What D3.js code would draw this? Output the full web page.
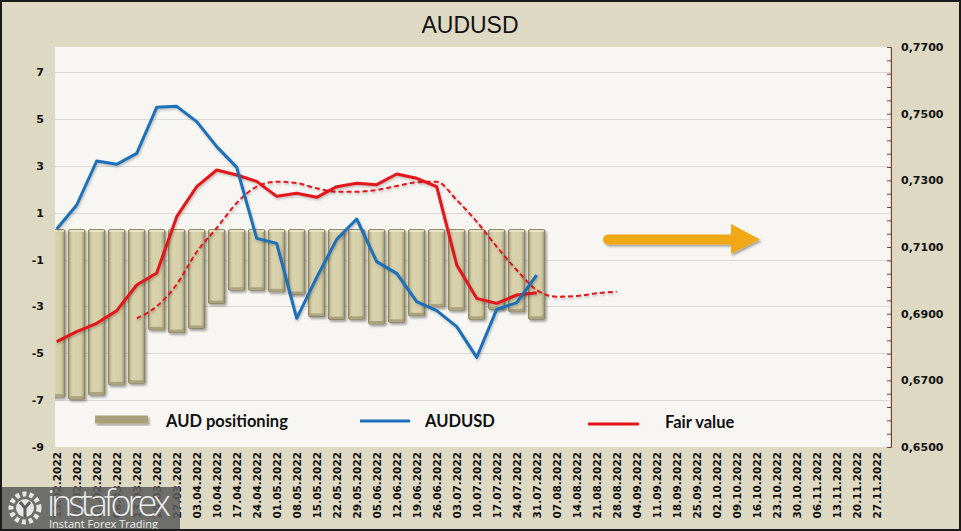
<!DOCTYPE html>
<html><head><meta charset="utf-8">
<script src="https://cdn.jsdelivr.net/npm/d3@7"></script>
<style>html,body{margin:0;padding:0;background:#ddd9c3;}svg{display:block;}</style>
</head><body>
<svg id="chart" width="961" height="531"></svg>
<script>
const dates = ["13.02.2022","20.02.2022","27.02.2022","06.03.2022","13.03.2022","20.03.2022","27.03.2022",
"03.04.2022","10.04.2022","17.04.2022","24.04.2022","01.05.2022","08.05.2022","15.05.2022","22.05.2022",
"29.05.2022","05.06.2022","12.06.2022","19.06.2022","26.06.2022","03.07.2022","10.07.2022","17.07.2022",
"24.07.2022","31.07.2022","07.08.2022","14.08.2022","21.08.2022","28.08.2022","04.09.2022","11.09.2022",
"18.09.2022","25.09.2022","02.10.2022","09.10.2022","16.10.2022","23.10.2022","30.10.2022","06.11.2022",
"13.11.2022","20.11.2022","27.11.2022"];
const positioning = [-6.87,-6.96,-6.78,-6.35,-6.28,-4.0,-4.12,-3.94,-2.88,-2.31,-2.31,-2.38,-2.49,-3.43,-3.56,
-3.55,-3.75,-3.68,-3.4,-3.02,-3.16,-3.55,-3.13,-3.23,-3.55];
const audusd = [0.7154,0.7226,0.7358,0.7348,0.7381,0.7519,0.7522,0.7476,0.7401,0.7339,0.7126,0.7111,0.6886,
0.7009,0.7123,0.7184,0.7056,0.7021,0.6936,0.6909,0.6861,0.6769,0.6913,0.6933,0.7016];
const fairValue = [0.6816,0.6846,0.6871,0.6909,0.6986,0.7022,0.7191,0.7281,0.7331,0.7316,0.7297,0.7252,0.7261,
0.7249,0.7281,0.7291,0.7287,0.7319,0.7306,0.7281,0.7046,0.6946,0.6931,0.6956,0.6963];
const fairTrend = [null,null,null,null,0.6886,0.6922,0.6988,0.7085,0.7157,0.7232,0.7281,0.7296,0.7292,0.7276,
0.7266,0.7266,0.7271,0.7283,0.7294,0.7296,0.7241,0.7176,0.7101,0.7031,0.6971,0.6951,0.6953,0.6961,0.6966];
const leftTicks = [-9,-7,-5,-3,-1,1,3,5,7];
const rightTicks = [0.65,0.67,0.69,0.71,0.73,0.75,0.77];
const title = "AUDUSD";
const legendLabels = ["AUD positioning","AUDUSD","Fair value"];

const W = 961, H = 531;
const plot = {l:55, r:890, t:47, b:447};
const svg = d3.select("#chart");
const defs = svg.append("defs");

const barGrad = defs.append("linearGradient").attr("id","barGrad").attr("x1","0").attr("x2","1").attr("y1","0").attr("y2","0");
[["0%","#958e69"],["14%","#cdc69d"],["30%","#d9d3ad"],["75%","#d5cfa9"],["88%","#b9b28a"],["100%","#8a8361"]]
  .forEach(s=>barGrad.append("stop").attr("offset",s[0]).attr("stop-color",s[1]));
const sh = defs.append("filter").attr("id","shadow").attr("x","-20%").attr("y","-20%").attr("width","150%").attr("height","150%");
sh.append("feDropShadow").attr("dx",1.5).attr("dy",2).attr("stdDeviation",1.2).attr("flood-color","#000").attr("flood-opacity",0.35);
const lsh = defs.append("filter").attr("id","lshadow").attr("x","-5%").attr("y","-5%").attr("width","110%").attr("height","120%");
lsh.append("feDropShadow").attr("dx",1).attr("dy",1.5).attr("stdDeviation",1).attr("flood-color","#000").attr("flood-opacity",0.25);

svg.append("rect").attr("x",0).attr("y",0).attr("width",W).attr("height",H).attr("fill","#ddd9c3");
svg.append("rect").attr("x",plot.l).attr("y",plot.t).attr("width",plot.r-plot.l).attr("height",plot.b-plot.t).attr("fill","#f7f6f2");

const x = d3.scalePoint().domain(dates).range([56.7, 876.7]);
const yL = d3.scaleLinear().domain([-9, 8.07]).range([plot.b, plot.t]);
const yR = d3.scaleLinear().domain([0.65, 0.77]).range([plot.b, plot.t]);

// grid
svg.append("g").selectAll("line").data(leftTicks.filter(d=>d>-9)).join("line")
  .attr("x1",plot.l).attr("x2",plot.r).attr("y1",d=>Math.round(yL(d))+0.5).attr("y2",d=>Math.round(yL(d))+0.5)
  .attr("stroke","#d9d8d4").attr("stroke-width",1);

// left labels
svg.append("g").selectAll("text").data(leftTicks).join("text")
  .attr("x",44).attr("y",d=>yL(d)+4).attr("text-anchor","end")
  .attr("font-family","DejaVu Sans, Verdana, sans-serif").attr("font-weight","bold").attr("font-size",11)
  .attr("fill","#111").text(d=>d);

// right axis
const ra = svg.append("g").attr("transform",`translate(${plot.r+1},0)`)
  .call(d3.axisLeft(yR).tickValues(d3.range(0.65,0.7701,0.004)).tickSize(4).tickFormat(""));
ra.select(".domain").attr("stroke","#7a3b35").attr("stroke-width",1);
ra.selectAll(".tick line").attr("stroke","#7a3b35");
svg.append("g").selectAll("text").data(rightTicks).join("text")
  .attr("x",901).attr("y",d=>yR(d)+4)
  .attr("font-family","DejaVu Sans, Verdana, sans-serif").attr("font-weight","bold").attr("font-size",11)
  .attr("fill","#111").text(d=>d3.format(".4f")(d).replace(".",","));

// x labels
svg.append("g").selectAll("text").data(dates).join("text")
  .attr("transform",d=>`translate(${x(d)+4},452) rotate(-90)`).attr("text-anchor","end")
  .attr("font-family","DejaVu Sans, Verdana, sans-serif").attr("font-weight","bold").attr("font-size",10.5)
  .attr("fill","#111").text(d=>d);

// bars
const clip = defs.append("clipPath").attr("id","plotClip");
clip.append("rect").attr("x",plot.l).attr("y",plot.t-5).attr("width",plot.r-plot.l).attr("height",plot.b-plot.t+10);
const bw = 16.5, base = 0.28;
svg.append("g").attr("clip-path","url(#plotClip)").selectAll("rect").data(positioning).join("rect")
  .attr("x",(d,i)=>x(dates[i])-bw/2).attr("y",yL(base)).attr("width",bw)
  .attr("height",d=>yL(d)-yL(base)).attr("rx",1.5)
  .attr("fill","url(#barGrad)").attr("stroke","#857f5c").attr("stroke-width",0.9)
  .attr("filter","url(#shadow)");
svg.append("g").attr("clip-path","url(#plotClip)").selectAll("rect").data(positioning).join("rect")
  .attr("x",(d,i)=>x(dates[i])-bw/2+1).attr("y",d=>yL(d)-3).attr("width",bw-2).attr("height",2.5)
  .attr("fill","#a29b75").attr("opacity",0.85);
svg.append("g").attr("clip-path","url(#plotClip)").selectAll("rect").data(positioning).join("rect")
  .attr("x",(d,i)=>x(dates[i])-bw/2+1).attr("y",yL(base)+0.5).attr("width",bw-2).attr("height",2)
  .attr("fill","#ebe6c8").attr("opacity",0.9);

// lines
const lineR = d3.line().defined(d=>d[1]!=null).x(d=>x(d[0])).y(d=>yR(d[1]));
svg.append("path").datum(fairTrend.map((v,i)=>[dates[i],v]))
  .attr("d",lineR.curve(d3.curveMonotoneX)).attr("fill","none").attr("stroke","#e3151a")
  .attr("stroke-width",2).attr("stroke-dasharray","5,3").attr("filter","url(#lshadow)");
const lineS = d3.line().x(d=>x(d[0])).y(d=>yR(d[1]));
svg.append("path").datum(fairValue.map((v,i)=>[dates[i],v]))
  .attr("d",lineS).attr("fill","none").attr("stroke","#e3151a").attr("stroke-width",3)
  .attr("stroke-linejoin","round").attr("filter","url(#lshadow)");
svg.append("path").datum(audusd.map((v,i)=>[dates[i],v]))
  .attr("d",lineS).attr("fill","none").attr("stroke","#1f6fb8").attr("stroke-width",3)
  .attr("stroke-linejoin","round").attr("filter","url(#lshadow)");

// arrow
const ar = svg.append("g").attr("filter","url(#shadow)");
ar.append("line").attr("x1",608).attr("x2",734).attr("y1",239.5).attr("y2",239.5)
  .attr("stroke","#f0a817").attr("stroke-width",10).attr("stroke-linecap","round");
ar.append("path").attr("d","M731,224 L760,239.5 L731,254 Z").attr("fill","#f0a817");

// legend
const lf = "Lato, 'Open Sans', sans-serif";
svg.append("rect").attr("x",95).attr("y",415.5).attr("width",53).attr("height",8).attr("fill","#a8a177").attr("filter","url(#shadow)");
svg.append("text").attr("x",166).attr("y",427).attr("font-family",lf).attr("font-weight","bold").attr("font-size",16.5).attr("fill","#111").text(legendLabels[0]);
svg.append("line").attr("x1",360).attr("x2",410).attr("y1",421).attr("y2",421).attr("stroke","#1f6fb8").attr("stroke-width",3);
svg.append("text").attr("x",425).attr("y",427).attr("font-family",lf).attr("font-weight","bold").attr("font-size",16.5).attr("fill","#111").text(legendLabels[1]);
svg.append("line").attr("x1",588).attr("x2",639).attr("y1",424).attr("y2",424).attr("stroke","#e3151a").attr("stroke-width",3);
svg.append("text").attr("x",665).attr("y",428).attr("font-family",lf).attr("font-weight","bold").attr("font-size",16.5).attr("fill","#111").text(legendLabels[2]);

// title
svg.append("text").attr("x",470).attr("y",33).attr("text-anchor","middle")
  .attr("font-family","'Liberation Sans Narrow', 'Arial Narrow', sans-serif").attr("font-size",23).attr("fill","#111").text(title);

// watermark
const wm = svg.append("g");
wm.append("rect").attr("x",0).attr("y",487).attr("width",180).attr("height",44).attr("fill","#5e5e5e").attr("opacity",0.88);
wm.append("circle").attr("cx",25).attr("cy",508).attr("r",14).attr("fill","none").attr("stroke","#e6e6e6").attr("stroke-width",5).attr("stroke-dasharray","4,3");
wm.append("circle").attr("cx",25).attr("cy",508).attr("r",9).attr("fill","#e6e6e6");
wm.append("path").attr("d","M20,502 L25,508 L30,502 M25,508 L25,517").attr("stroke","#5e5e5e").attr("stroke-width",3).attr("fill","none");
wm.append("text").attr("x",47).attr("y",516).attr("font-family","'Open Sans', sans-serif").attr("font-size",36).attr("font-weight",300).attr("fill","#ececec").attr("textLength",124).text("instaforex");
wm.append("text").attr("x",49).attr("y",528).attr("font-family","'Open Sans', sans-serif").attr("font-size",11).attr("fill","#ececec").text("Instant Forex Trading");

// border
svg.append("rect").attr("x",1).attr("y",1).attr("width",W-2).attr("height",H-2).attr("fill","none").attr("stroke","#1a1a1a").attr("stroke-width",2);
</script>
</body></html>
